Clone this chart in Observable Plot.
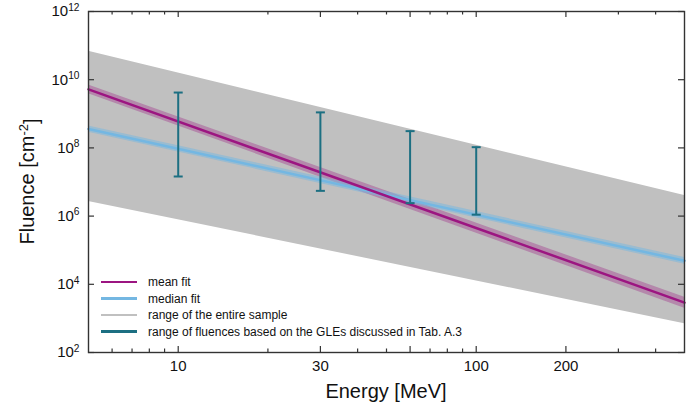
<!DOCTYPE html>
<html>
<head>
<meta charset="utf-8">
<script src="https://cdn.jsdelivr.net/npm/d3@7"></script>
<script src="https://cdn.jsdelivr.net/npm/@observablehq/plot@0.6"></script>
<style>
  body { margin: 0; background: #fff; font-family: "Liberation Sans", Arial, sans-serif; }
  #wrap { position: relative; width: 700px; height: 412px; }
  #legend { position: absolute; left: 101px; top: 274px; font-size: 12px; color: #111; }
  .row { position: absolute; left: 0; height: 16px; white-space: nowrap; display: flex; align-items: center; }
  .sw { width: 36px; height: 2.5px; margin-right: 11px; }
</style>
</head>
<body>
<div id="wrap"><div id="legend"></div></div>
<script>
// ---- data ----
const fitEnergy = [5, 500];
const meanFit = [5.2e9, 2.9e3];
const meanLo = [3.9e9, 2.0e3];
const meanHi = [7.0e9, 4.2e3];
const medianFit = [3.6e8, 4.9e4];
const medianLo = [2.9e8, 3.9e4];
const medianHi = [4.4e8, 6.1e4];
const sampleLo = [2.7e6, 7.0e2];
const sampleHi = [6.8e10, 4.0e6];

const gleEnergy = [10, 30, 60, 100];
const gleLo = [1.45e7, 5.5e6, 2.4e6, 1.1e6];
const gleHi = [4.2e9, 1.1e9, 3.1e8, 1.05e8];

const xTickLabels = [10, 30, 60, 100, 200];
const xMinorTicks = [6, 7, 8, 9, 20, 40, 50, 70, 80, 90, 300, 400];
const yTickValues = [1e2, 1e4, 1e6, 1e8, 1e10, 1e12];

const legendLabels = ["mean fit", "median fit", "range of the entire sample",
  "range of fluences based on the GLEs discussed in Tab. A.3"];

// ---- styling ----
const purple = "#9c1581", blue = "#74b7e2", grey = "#c0c0c0", teal = "#1c6f82", axisCol = "#333";
const legendColors = [purple, blue, grey, teal];

const idx = fitEnergy.map((_, i) => i);
const band = (lo, hi) => idx.map(i => ({x: fitEnergy[i], lo: lo[i], hi: hi[i]}));
const fit = (v) => idx.map(i => ({x: fitEnergy[i], y: v[i]}));
const gle = gleEnergy.map((e, i) => ({x: e, lo: gleLo[i], hi: gleHi[i]}));

const W = 700, H = 412, mL = 88, mR = 16, mT = 11, mB = 60;
const pw = W - mL - mR, ph = H - mT - mB;

const cap = { draw(ctx, size) { const r = Math.sqrt(size / Math.PI); ctx.moveTo(-r, 0); ctx.lineTo(r, 0); } };

const chart = Plot.plot({
  width: W, height: H,
  marginLeft: mL, marginRight: mR, marginTop: mT, marginBottom: mB,
  style: {fontFamily: '"Liberation Sans", Arial, sans-serif', background: "#fff", color: "#111"},
  x: {type: "log", domain: [5, 500]},
  y: {type: "log", domain: [1e2, 1e12]},
  marks: [
    Plot.areaY(band(sampleLo, sampleHi), {x: "x", y1: "lo", y2: "hi", fill: grey}),
    Plot.areaY(band(meanLo, meanHi), {x: "x", y1: "lo", y2: "hi", fill: purple, fillOpacity: 0.33}),
    Plot.areaY(band(medianLo, medianHi), {x: "x", y1: "lo", y2: "hi", fill: blue, fillOpacity: 0.5}),
    Plot.line(fit(medianFit), {x: "x", y: "y", stroke: blue, strokeWidth: 2.5}),
    Plot.line(fit(meanFit), {x: "x", y: "y", stroke: purple, strokeWidth: 2.5}),
    Plot.ruleX(gle, {x: "x", y1: "lo", y2: "hi", stroke: teal, strokeWidth: 2}),
    Plot.dot(gle, {x: "x", y: "lo", symbol: cap, r: 4.5, stroke: teal, strokeWidth: 2, fill: "none"}),
    Plot.dot(gle, {x: "x", y: "hi", symbol: cap, r: 4.5, stroke: teal, strokeWidth: 2, fill: "none"}),
    // inward ticks on all four sides
    Plot.tickX(xTickLabels, {x: d => d, insetTop: ph - 6, stroke: axisCol, strokeWidth: 1.2}),
    Plot.tickX(xTickLabels, {x: d => d, insetBottom: ph - 6, stroke: axisCol, strokeWidth: 1.2}),
    Plot.tickX(xMinorTicks, {x: d => d, insetTop: ph - 3.5, stroke: axisCol, strokeWidth: 1.2}),
    Plot.tickX(xMinorTicks, {x: d => d, insetBottom: ph - 3.5, stroke: axisCol, strokeWidth: 1.2}),
    Plot.tickY(yTickValues, {y: d => d, insetRight: pw - 6, stroke: axisCol, strokeWidth: 1.2}),
    Plot.tickY(yTickValues, {y: d => d, insetLeft: pw - 6, stroke: axisCol, strokeWidth: 1.2}),
    Plot.frame({stroke: axisCol, strokeWidth: 1.4}),
    Plot.axisX(xTickLabels, {tickSize: 0, tickPadding: 8, fontSize: 15, tickFormat: d => String(d), label: null}),
    Plot.axisY(yTickValues, {tickSize: 0, tickPadding: 9, fontSize: 15,
      tickFormat: d => "10^" + Math.round(Math.log10(d)), label: null})
  ]
});

const wrap = document.getElementById("wrap");
wrap.insertBefore(chart, wrap.firstChild);

// superscripts on y tick labels
const svg = d3.select(chart);
svg.selectAll('g[aria-label="y-axis tick label"] text').each(function () {
  const t = d3.select(this);
  const [b, e] = t.text().split("^");
  t.text(b);
  t.append("tspan").attr("dy", "-0.55em").attr("font-size", "0.68em").text(e);
});

// axis titles
svg.append("text").attr("x", mL + pw / 2).attr("y", 398).attr("text-anchor", "middle")
  .attr("font-size", 20).attr("fill", "#111").text("Energy [MeV]");
const yt = svg.append("text").attr("transform", `translate(34,${mT + ph / 2}) rotate(-90)`)
  .attr("text-anchor", "middle").attr("font-size", 20).attr("fill", "#111");
yt.append("tspan").text("Fluence [cm");
yt.append("tspan").attr("dy", "-0.5em").attr("font-size", "0.65em").text("-2");
yt.append("tspan").attr("dy", "0.5em").text("]");

// legend
const leg = document.getElementById("legend");
const rowTops = [0, 16.5, 33, 49.5];
legendLabels.forEach((lab, i) => {
  const r = document.createElement("div");
  r.className = "row";
  r.style.top = rowTops[i] + "px";
  const s = document.createElement("div");
  s.className = "sw";
  s.style.background = legendColors[i];
  r.appendChild(s);
  r.appendChild(document.createTextNode(lab));
  leg.appendChild(r);
});
</script>
</body>
</html>
